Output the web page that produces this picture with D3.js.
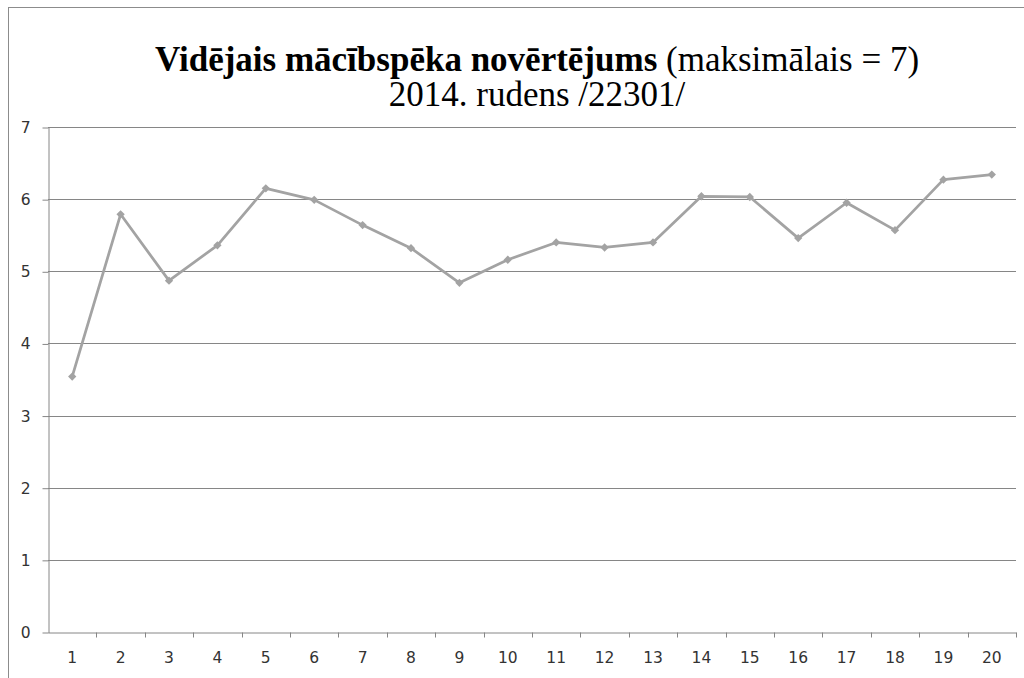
<!DOCTYPE html>
<html>
<head>
<meta charset="utf-8">
<title>Vidējais mācībspēka novērtējums</title>
<script src="https://cdnjs.cloudflare.com/ajax/libs/d3/7.8.5/d3.min.js"></script>
<style>
  body { margin: 0; background: #fff; }
</style>
</head>
<body>
<script>
// data
var categories = ["1","2","3","4","5","6","7","8","9","10","11","12","13","14","15","16","17","18","19","20"];
var values = [3.54, 5.79, 4.87, 5.36, 6.15, 5.99, 5.64, 5.32, 4.84, 5.16, 5.40, 5.33, 5.40, 6.04, 6.03, 5.46, 5.95, 5.57, 6.27, 6.34];
var yTicks = [0, 1, 2, 3, 4, 5, 6, 7];

var W = 1024, H = 678;
var plotLeft = 48, plotRight = 1016, plotTop = 127, plotBottom = 632;

var svg = d3.select("body").append("svg")
    .attr("width", W)
    .attr("height", H);

svg.append("rect")
    .attr("width", W).attr("height", H)
    .attr("fill", "#fff");

// outer chart border (runs off the right and bottom edge)
svg.append("rect")
    .attr("x", 8.5).attr("y", 7.5)
    .attr("width", W).attr("height", H)
    .attr("fill", "none")
    .attr("stroke", "#8c8c8c");

var x = d3.scaleBand().domain(categories).range([plotLeft, plotRight]).padding(0);
var y = d3.scaleLinear().domain([0, 7]).range([plotBottom, plotTop]);

// gridlines
svg.append("g")
  .selectAll("line")
  .data(yTicks.slice(1))
  .enter().append("line")
    .attr("x1", plotLeft).attr("x2", plotRight)
    .attr("y1", function(d){ return Math.round(y(d)) + 0.5; })
    .attr("y2", function(d){ return Math.round(y(d)) + 0.5; })
    .attr("stroke", "#868686");

// y axis
var yAxis = svg.append("g")
    .attr("transform", "translate(" + (plotLeft + 0.5) + ",0.5)")
    .call(d3.axisLeft(y).tickValues(yTicks).tickFormat(d3.format("d"))
      .tickSize(6).tickPadding(12).tickSizeOuter(0));
yAxis.selectAll("path, line").attr("stroke", "#868686");

// x axis: ticks on category borders
var xAxis = svg.append("g")
    .attr("transform", "translate(0," + (plotBottom + 0.5) + ")")
    .call(d3.axisBottom(x).tickSize(0).tickPadding(19).tickSizeOuter(0));
xAxis.select("path").attr("stroke", "#868686");
xAxis.selectAll(".tick line").remove();
xAxis.append("g")
  .selectAll("line")
  .data(categories)
  .enter().append("line")
    .attr("x1", function(d){ return Math.round(x(d) + x.bandwidth()) + 0.5; })
    .attr("x2", function(d){ return Math.round(x(d) + x.bandwidth()) + 0.5; })
    .attr("y1", 0).attr("y2", 5)
    .attr("stroke", "#868686");

svg.selectAll(".tick text")
    .style("font-family", "'DejaVu Sans', Verdana, sans-serif")
    .style("font-size", "15.5px")
    .style("fill", "#333");

// series line
var line = d3.line()
    .x(function(d, i){ return x(categories[i]) + x.bandwidth() / 2; })
    .y(function(d){ return y(d); });

svg.append("path")
    .datum(values)
    .attr("fill", "none")
    .attr("stroke", "#a3a3a3")
    .attr("stroke-width", 2.75)
    .attr("stroke-linejoin", "round")
    .attr("d", line);

svg.append("g")
  .selectAll("path")
  .data(values)
  .enter().append("path")
    .attr("transform", function(d, i){ return "translate(" + (x(categories[i]) + x.bandwidth() / 2) + "," + y(d) + ")"; })
    .attr("d", d3.symbol().type(d3.symbolDiamond2).size(44))
    .attr("fill", "#a3a3a3");

// title
var title = svg.append("text")
    .attr("x", 537).attr("y", 71)
    .attr("text-anchor", "middle")
    .style("font-family", "'Liberation Serif', 'Times New Roman', serif")
    .style("font-size", "35px")
    .style("fill", "#000");
title.append("tspan").style("font-weight", "bold").text("Vidējais mācībspēka novērtējums");
title.append("tspan").text(" (maksimālais = 7)");

svg.append("text")
    .attr("x", 537).attr("y", 106)
    .attr("text-anchor", "middle")
    .style("font-family", "'Liberation Serif', 'Times New Roman', serif")
    .style("font-size", "35px")
    .style("fill", "#000")
    .text("2014. rudens /22301/");
</script>
</body>
</html>
